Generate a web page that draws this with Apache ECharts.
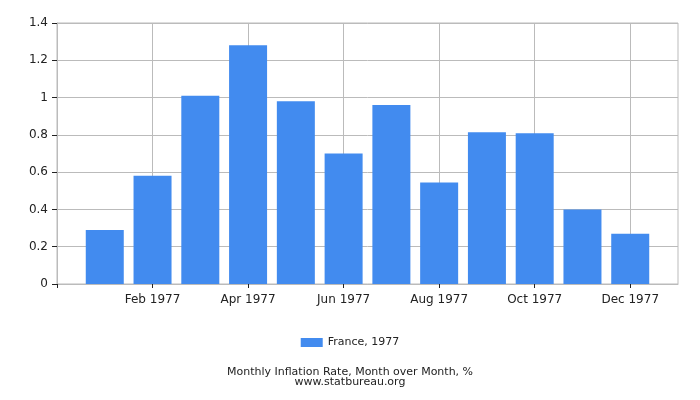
<!DOCTYPE html>
<html>
<head>
<meta charset="utf-8">
<script src="https://cdn.jsdelivr.net/npm/echarts@6/dist/echarts.min.js"></script>
<style>
html,body{margin:0;padding:0;background:#fff;}
#chart{width:700px;height:400px;}
</style>
</head>
<body>
<div id="chart"></div>
<script>
var months = ['Jan 1977','Feb 1977','Mar 1977','Apr 1977','May 1977','Jun 1977','Jul 1977','Aug 1977','Sep 1977','Oct 1977','Nov 1977','Dec 1977'];
var franceValues = [0.29, 0.58, 1.01, 1.28, 0.98, 0.70, 0.96, 0.545, 0.814, 0.808, 0.40, 0.27];
var yTicks = [0, 0.2, 0.4, 0.6, 0.8, 1, 1.2, 1.4];

var categories = [''].concat(months).concat(['']);
var seriesData = [null].concat(franceValues).concat([null]);

var chart = echarts.init(document.getElementById('chart'), null, {renderer:'canvas'});
var font = 'DejaVu Sans';
chart.setOption({
  animation: false,
  textStyle: {fontFamily: font},
  grid: {left: 57, right: 22, top: 23, bottom: 116, show: true, borderColor: '#bbb', borderWidth: 1},
  title: {
    text: 'Monthly Inflation Rate, Month over Month, %\nwww.statbureau.org',
    left: 'center', top: 362,
    textStyle: {fontFamily: font, fontSize: 11, fontWeight: 'normal', color: '#222', lineHeight: 10}
  },
  legend: {
    data: [{name: 'France, 1977', icon: 'rect'}], top: 332, left: 'center',
    itemWidth: 22, itemHeight: 9, itemGap: 5,
    textStyle: {fontFamily: font, fontSize: 11, color: '#222'}
  },
  xAxis: {
    type: 'category', data: categories, boundaryGap: false,
    axisLine: {lineStyle: {color: '#bbb'}},
    axisTick: {interval: 1, length: 4, lineStyle: {color: '#222'}},
    axisLabel: {interval: 1, color: '#222', fontFamily: font, fontSize: 12, margin: 10},
    splitLine: {show: true, interval: 1, lineStyle: {color: '#bbb'}}
  },
  yAxis: {
    type: 'value', min: yTicks[0], max: yTicks[yTicks.length-1], interval: 0.2,
    axisLine: {show: true, lineStyle: {color: '#bbb'}},
    axisTick: {show: true, length: 5, lineStyle: {color: '#222'}},
    axisLabel: {color: '#222', fontFamily: font, fontSize: 12, margin: 9},
    splitLine: {show: true, lineStyle: {color: '#bbb'}}
  },
  series: [{
    name: 'France, 1977', type: 'bar', data: seriesData, barWidth: 38,
    itemStyle: {color: '#428bef'}
  }]
});
</script>
</body>
</html>
